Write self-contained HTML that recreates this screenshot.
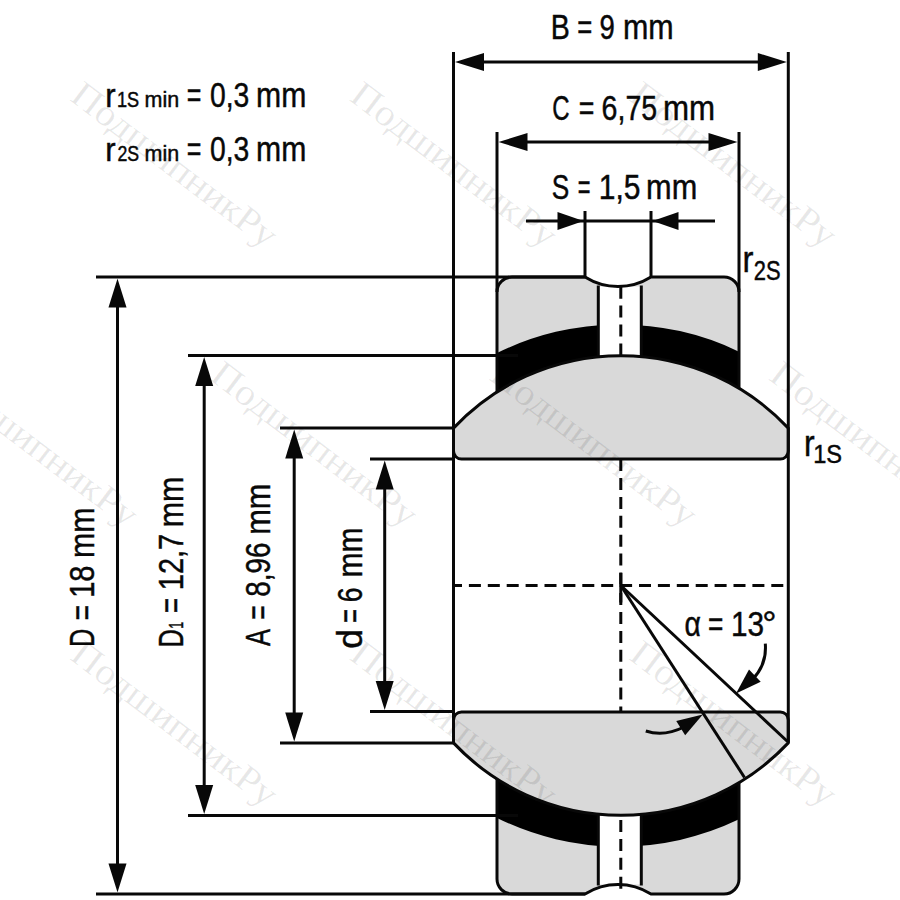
<!DOCTYPE html>
<html><head><meta charset="utf-8"><style>html,body{margin:0;padding:0;background:#fff;width:900px;height:900px;overflow:hidden}svg{display:block}</style></head>
<body><svg width="900" height="900" viewBox="0 0 900 900"><rect width="900" height="900" fill="#fff"/><path d="M497.0,292.00 A15.0,15.0 0 0 1 512.0,277.00 L585.0,277.00 A62.07,62.07 0 0 0 651.0,277.00 L724.0,277.00 A15.0,15.0 0 0 1 739.0,292.00 L739.0,388.55 A229.7,229.7 0 0 0 497.0,392.02 Z" fill="#d9d9d9"/>
<path d="M497.0,353.12 A275.6,275.6 0 0 1 739.0,351.66 L739.0,388.55 A229.7,229.7 0 0 0 497.0,392.02 Z" fill="#000"/>
<rect x="598.3" y="286.50" width="43.0" height="69.30" fill="#fff"/>
<line x1="598.3" y1="285.50" x2="598.3" y2="356.90" stroke="#080808" stroke-width="3.0"/>
<line x1="641.3" y1="285.50" x2="641.3" y2="356.72" stroke="#080808" stroke-width="3.0"/>
<path d="M497.0,392.02 L497.0,292.00 A15.0,15.0 0 0 1 512.0,277.00 L585.0,277.00 A62.07,62.07 0 0 0 651.0,277.00 L724.0,277.00 A15.0,15.0 0 0 1 739.0,292.00 L739.0,388.55" fill="none" stroke="#080808" stroke-width="3.0"/>
<path d="M497.0,879.00 A15.0,15.0 0 0 0 512.0,894.00 L585.0,894.00 A62.07,62.07 0 0 1 651.0,894.00 L724.0,894.00 A15.0,15.0 0 0 0 739.0,879.00 L739.0,782.45 A229.7,229.7 0 0 1 497.0,778.98 Z" fill="#d9d9d9"/>
<path d="M497.0,817.88 A275.6,275.6 0 0 0 739.0,819.34 L739.0,782.45 A229.7,229.7 0 0 1 497.0,778.98 Z" fill="#000"/>
<rect x="598.3" y="815.20" width="43.0" height="69.30" fill="#fff"/>
<line x1="598.3" y1="885.50" x2="598.3" y2="814.10" stroke="#080808" stroke-width="3.0"/>
<line x1="641.3" y1="885.50" x2="641.3" y2="814.28" stroke="#080808" stroke-width="3.0"/>
<path d="M497.0,778.98 L497.0,879.00 A15.0,15.0 0 0 0 512.0,894.00 L585.0,894.00 A62.07,62.07 0 0 1 651.0,894.00 L724.0,894.00 A15.0,15.0 0 0 0 739.0,879.00 L739.0,782.45" fill="none" stroke="#080808" stroke-width="3.0"/>
<path d="M453.5,428.11 A229.7,229.7 0 0 1 788.3,428.11 L788.3,451.10 A8.0,8.0 0 0 1 780.3,459.10 L461.5,459.10 A8.0,8.0 0 0 1 453.5,451.10 Z" fill="#d9d9d9" stroke="#080808" stroke-width="3.0" stroke-linejoin="round"/>
<path d="M453.5,742.89 A229.7,229.7 0 0 0 788.3,742.89 L788.3,719.90 A8.0,8.0 0 0 0 780.3,711.90 L461.5,711.90 A8.0,8.0 0 0 0 453.5,719.90 Z" fill="#d9d9d9" stroke="#080808" stroke-width="3.0" stroke-linejoin="round"/>
<line x1="453.50" y1="52.00" x2="453.50" y2="742.89" stroke="#080808" stroke-width="3.0" />
<line x1="788.30" y1="52.00" x2="788.30" y2="742.68" stroke="#080808" stroke-width="3.0" />
<line x1="497.00" y1="132.00" x2="497.00" y2="292.00" stroke="#080808" stroke-width="3.0" />
<line x1="739.00" y1="132.00" x2="739.00" y2="292.00" stroke="#080808" stroke-width="3.0" />
<line x1="585.00" y1="211.00" x2="585.00" y2="277.00" stroke="#080808" stroke-width="3.0" />
<line x1="651.00" y1="211.00" x2="651.00" y2="277.00" stroke="#080808" stroke-width="3.0" />
<line x1="96.00" y1="277.00" x2="585.00" y2="277.00" stroke="#080808" stroke-width="3.0" />
<line x1="96.00" y1="894.00" x2="585.00" y2="894.00" stroke="#080808" stroke-width="3.0" />
<line x1="188.00" y1="355.50" x2="518.00" y2="355.50" stroke="#080808" stroke-width="3.0" />
<line x1="188.00" y1="815.50" x2="518.00" y2="815.50" stroke="#080808" stroke-width="3.0" />
<line x1="280.00" y1="428.11" x2="453.50" y2="428.11" stroke="#080808" stroke-width="3.0" />
<line x1="280.00" y1="742.89" x2="453.50" y2="742.89" stroke="#080808" stroke-width="3.0" />
<line x1="370.00" y1="459.10" x2="453.50" y2="459.10" stroke="#080808" stroke-width="3.0" />
<line x1="370.00" y1="711.60" x2="453.50" y2="711.60" stroke="#080808" stroke-width="3.0" />
<line x1="117.50" y1="287.00" x2="117.50" y2="884.00" stroke="#080808" stroke-width="3.0" />
<path d="M117.50,278.50 L126.50,307.50 L108.50,307.50 Z" fill="#080808"/>
<path d="M117.50,892.50 L108.50,863.50 L126.50,863.50 Z" fill="#080808"/>
<line x1="204.20" y1="365.50" x2="204.20" y2="805.50" stroke="#080808" stroke-width="3.0" />
<path d="M204.20,357.00 L213.20,386.00 L195.20,386.00 Z" fill="#080808"/>
<path d="M204.20,814.00 L195.20,785.00 L213.20,785.00 Z" fill="#080808"/>
<line x1="294.20" y1="438.11" x2="294.20" y2="732.89" stroke="#080808" stroke-width="3.0" />
<path d="M294.20,429.61 L303.20,458.61 L285.20,458.61 Z" fill="#080808"/>
<path d="M294.20,741.39 L285.20,712.39 L303.20,712.39 Z" fill="#080808"/>
<line x1="384.70" y1="469.10" x2="384.70" y2="701.60" stroke="#080808" stroke-width="3.0" />
<path d="M384.70,460.60 L393.70,489.60 L375.70,489.60 Z" fill="#080808"/>
<path d="M384.70,710.10 L375.70,681.10 L393.70,681.10 Z" fill="#080808"/>
<line x1="463.50" y1="62.00" x2="778.30" y2="62.00" stroke="#080808" stroke-width="3.0" />
<path d="M455.00,62.00 L484.00,53.00 L484.00,71.00 Z" fill="#080808"/>
<path d="M786.80,62.00 L757.80,71.00 L757.80,53.00 Z" fill="#080808"/>
<line x1="507.00" y1="142.00" x2="729.00" y2="142.00" stroke="#080808" stroke-width="3.0" />
<path d="M498.50,142.00 L527.50,133.00 L527.50,151.00 Z" fill="#080808"/>
<path d="M737.50,142.00 L708.50,151.00 L708.50,133.00 Z" fill="#080808"/>
<line x1="526.00" y1="221.00" x2="715.00" y2="221.00" stroke="#080808" stroke-width="3.0" />
<path d="M583.50,221.00 L557.50,230.00 L557.50,212.00 Z" fill="#080808"/>
<path d="M652.50,221.00 L678.50,212.00 L678.50,230.00 Z" fill="#080808"/>
<line x1="453.50" y1="585.50" x2="788.30" y2="585.50" stroke="#080808" stroke-width="3.0" stroke-dasharray="12 6.9" stroke-dashoffset="3.5"/>
<line x1="620.80" y1="459.10" x2="620.80" y2="585.50" stroke="#080808" stroke-width="3.0" stroke-dasharray="12 6.9"/>
<line x1="620.80" y1="711.60" x2="620.80" y2="585.50" stroke="#080808" stroke-width="3.0" stroke-dasharray="12 6.9" stroke-dashoffset="6.9"/>
<line x1="620.80" y1="573.00" x2="620.80" y2="602.50" stroke="#080808" stroke-width="3.0" />
<line x1="620.80" y1="286.70" x2="620.80" y2="355.80" stroke="#080808" stroke-width="3.0" stroke-dasharray="12 6.9"/>
<line x1="620.80" y1="820.00" x2="620.80" y2="889.00" stroke="#080808" stroke-width="3.0" stroke-dasharray="12 6.9"/>
<line x1="620.80" y1="585.50" x2="787.50" y2="741.50" stroke="#080808" stroke-width="3.0" />
<line x1="620.80" y1="585.50" x2="744.50" y2="777.50" stroke="#080808" stroke-width="3.0" />
<path d="M765.3,643.6 Q767,665 752,680" fill="none" stroke="#080808" stroke-width="3.0"/>
<path d="M736.00,693.60 L749.00,669.53 L760.70,681.86 Z" fill="#080808"/>
<path d="M645.8,731 Q664,737 684,727" fill="none" stroke="#080808" stroke-width="3.0"/>
<path d="M702.80,714.40 L685.18,735.32 L676.22,720.88 Z" fill="#080808"/><g font-family='"Liberation Sans", sans-serif' stroke="#080808" stroke-width="0.45"><text transform="translate(550.76,38.90) scale(0.8326,1)" font-size="34.30" fill="#080808">B</text>
<text transform="translate(577.14,38.90) scale(0.7500,1)" font-size="34.30" fill="#080808">=</text>
<text transform="translate(599.41,38.90) scale(0.8015,1)" font-size="34.30" fill="#080808">9</text>
<text transform="translate(622.98,38.90) scale(0.8877,1)" font-size="34.30" fill="#080808">mm</text>
<text transform="translate(552.18,120.00) scale(0.6997,1)" font-size="34.30" fill="#080808">C</text>
<text transform="translate(578.69,120.00) scale(0.7800,1)" font-size="34.30" fill="#080808">=</text>
<text transform="translate(601.55,120.00) scale(0.8336,1)" font-size="34.30" fill="#080808">6,75</text>
<text transform="translate(662.92,120.00) scale(0.9124,1)" font-size="34.30" fill="#080808">mm</text>
<text transform="translate(551.81,199.10) scale(0.7646,1)" font-size="34.30" fill="#080808">S</text>
<text transform="translate(577.73,199.10) scale(0.6360,1)" font-size="34.30" fill="#080808">=</text>
<text transform="translate(598.71,199.10) scale(0.8755,1)" font-size="34.30" fill="#080808">1,5</text>
<text transform="translate(646.06,199.10) scale(0.8953,1)" font-size="34.30" fill="#080808">mm</text>
<text transform="translate(105.13,107.30) scale(0.9260,1)" font-size="33.69" fill="#080808">r</text>
<text transform="translate(116.92,107.30) scale(0.8331,1)" font-size="21.80" fill="#080808">1S</text>
<text transform="translate(144.57,107.30) scale(0.9855,1)" font-size="21.80" fill="#080808">min</text>
<text transform="translate(186.77,107.30) scale(0.7320,1)" font-size="34.30" fill="#080808">=</text>
<text transform="translate(209.89,107.30) scale(0.8252,1)" font-size="34.30" fill="#080808">0,3</text>
<text transform="translate(256.00,107.30) scale(0.8801,1)" font-size="34.30" fill="#080808">mm</text>
<text transform="translate(105.13,160.80) scale(0.9260,1)" font-size="33.69" fill="#080808">r</text>
<text transform="translate(117.41,160.80) scale(0.8140,1)" font-size="21.80" fill="#080808">2S</text>
<text transform="translate(144.57,160.80) scale(0.9855,1)" font-size="21.80" fill="#080808">min</text>
<text transform="translate(186.77,160.80) scale(0.7320,1)" font-size="34.30" fill="#080808">=</text>
<text transform="translate(209.89,160.80) scale(0.8252,1)" font-size="34.30" fill="#080808">0,3</text>
<text transform="translate(256.00,160.80) scale(0.8801,1)" font-size="34.30" fill="#080808">mm</text>
<g transform="translate(93.90,0) rotate(-90)"><text transform="translate(-647.08,0.00) scale(0.7383,1)" font-size="34.30" fill="#080808">D</text></g>
<g transform="translate(93.90,0) rotate(-90)"><text transform="translate(-620.19,0.00) scale(0.7680,1)" font-size="34.30" fill="#080808">=</text></g>
<g transform="translate(93.90,0) rotate(-90)"><text transform="translate(-597.82,0.00) scale(0.8487,1)" font-size="34.30" fill="#080808">18</text></g>
<g transform="translate(93.90,0) rotate(-90)"><text transform="translate(-558.12,0.00) scale(0.8877,1)" font-size="34.30" fill="#080808">mm</text></g>
<g transform="translate(183.30,0) rotate(-90)"><text transform="translate(-647.14,0.00) scale(0.7235,1)" font-size="34.30" fill="#080808">D</text></g>
<g transform="translate(183.30,0) rotate(-90)"><text transform="translate(-628.75,0.00) scale(0.6383,1)" font-size="19.62" fill="#080808">1</text></g>
<g transform="translate(183.30,0) rotate(-90)"><text transform="translate(-613.06,0.00) scale(0.7500,1)" font-size="34.30" fill="#080808">=</text></g>
<g transform="translate(183.30,0) rotate(-90)"><text transform="translate(-590.21,0.00) scale(0.8442,1)" font-size="34.30" fill="#080808">12,7</text></g>
<g transform="translate(183.30,0) rotate(-90)"><text transform="translate(-527.32,0.00) scale(0.8858,1)" font-size="34.30" fill="#080808">mm</text></g>
<g transform="translate(270.30,0) rotate(-90)"><text transform="translate(-646.05,0.00) scale(0.7474,1)" font-size="34.30" fill="#080808">A</text></g>
<g transform="translate(270.30,0) rotate(-90)"><text transform="translate(-619.71,0.00) scale(0.7200,1)" font-size="34.30" fill="#080808">=</text></g>
<g transform="translate(270.30,0) rotate(-90)"><text transform="translate(-596.71,0.00) scale(0.8108,1)" font-size="34.30" fill="#080808">8,96</text></g>
<g transform="translate(270.30,0) rotate(-90)"><text transform="translate(-534.85,0.00) scale(0.8991,1)" font-size="34.30" fill="#080808">mm</text></g>
<g transform="translate(362.30,0) rotate(-90)"><text transform="translate(-648.68,0.00) scale(1.0307,1)" font-size="34.30" fill="#080808">d</text></g>
<g transform="translate(362.30,0) rotate(-90)"><text transform="translate(-623.07,0.00) scale(0.6960,1)" font-size="34.30" fill="#080808">=</text></g>
<g transform="translate(362.30,0) rotate(-90)"><text transform="translate(-602.25,0.00) scale(0.7771,1)" font-size="34.30" fill="#080808">6</text></g>
<g transform="translate(362.30,0) rotate(-90)"><text transform="translate(-577.60,0.00) scale(0.8782,1)" font-size="34.30" fill="#080808">mm</text></g>
<text transform="translate(684.41,636.10) scale(0.8275,1)" font-size="34.30" fill="#080808">α</text>
<text transform="translate(708.11,636.10) scale(0.7680,1)" font-size="34.30" fill="#080808">=</text>
<text transform="translate(731.04,636.10) scale(0.8668,1)" font-size="34.30" fill="#080808">13</text>
<text transform="translate(762.27,636.10) scale(1.0401,1)" font-size="34.30" fill="#080808">°</text>
<text transform="translate(742.62,271.80) scale(0.8841,1)" font-size="37.10" fill="#080808">r</text>
<text transform="translate(753.80,280.00) scale(0.8107,1)" font-size="27.04" fill="#080808">2S</text>
<text transform="translate(803.88,456.40) scale(0.8715,1)" font-size="36.72" fill="#080808">r</text>
<text transform="translate(813.20,462.80) scale(0.9025,1)" font-size="26.16" fill="#080808">1S</text></g><g font-family="'Liberation Serif', serif" fill="rgba(0,0,0,0.09)"><g transform="translate(69.45,100.26) rotate(37.2) scale(1.0752,1)"><text x="-1.08" y="0" font-size="37.5">ПодшипникРу</text></g>
<g transform="translate(69.45,659.26) rotate(37.2) scale(1.0752,1)"><text x="-1.08" y="0" font-size="37.5">ПодшипникРу</text></g>
<g transform="translate(348.95,100.26) rotate(37.2) scale(1.0752,1)"><text x="-1.08" y="0" font-size="37.5">ПодшипникРу</text></g>
<g transform="translate(348.95,659.26) rotate(37.2) scale(1.0752,1)"><text x="-1.08" y="0" font-size="37.5">ПодшипникРу</text></g>
<g transform="translate(628.45,100.26) rotate(37.2) scale(1.0752,1)"><text x="-1.08" y="0" font-size="37.5">ПодшипникРу</text></g>
<g transform="translate(628.45,659.26) rotate(37.2) scale(1.0752,1)"><text x="-1.08" y="0" font-size="37.5">ПодшипникРу</text></g>
<g transform="translate(-70.15,379.76) rotate(37.2) scale(1.0752,1)"><text x="-1.08" y="0" font-size="37.5">ПодшипникРу</text></g>
<g transform="translate(209.35,379.76) rotate(37.2) scale(1.0752,1)"><text x="-1.08" y="0" font-size="37.5">ПодшипникРу</text></g>
<g transform="translate(488.85,379.76) rotate(37.2) scale(1.0752,1)"><text x="-1.08" y="0" font-size="37.5">ПодшипникРу</text></g>
<g transform="translate(768.35,379.76) rotate(37.2) scale(1.0752,1)"><text x="-1.08" y="0" font-size="37.5">ПодшипникРу</text></g></g></svg></body></html>
